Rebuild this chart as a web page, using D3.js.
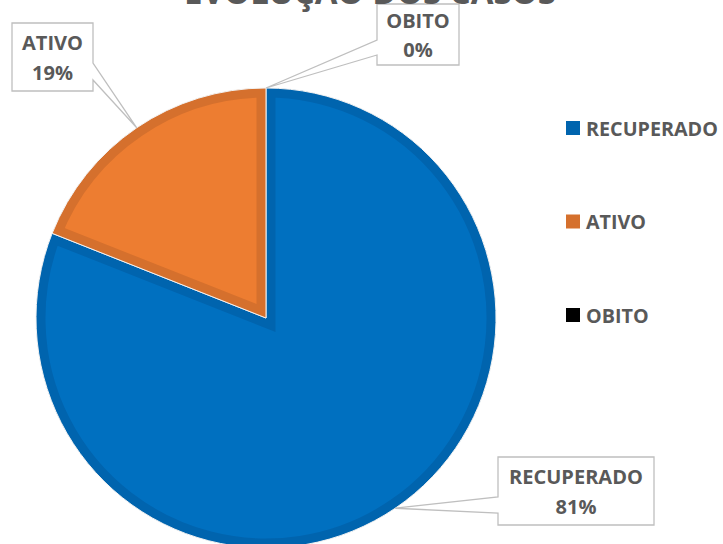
<!DOCTYPE html>
<html>
<head>
<meta charset="utf-8">
<script src="https://cdn.jsdelivr.net/npm/d3@7"></script>
<style>
  html, body { margin: 0; padding: 0; background: #fff; }
  svg { display: block; }
  text { font-family: "Open Sans", "Liberation Sans", sans-serif; font-weight: 700; }
</style>
</head>
<body>
<svg id="chart" width="723" height="544"></svg>
<script>
const title = "EVOLUÇÃO DOS CASOS";
const categories = ["RECUPERADO", "ATIVO", "OBITO"];
const values = [81, 19, 0];
const percentLabels = ["81%", "19%", "0%"];
const fillColors = ["#0070C0", "#ED7D31", "#000000"];
const bandColors = ["#0064AE", "#D5702D", "#000000"];

const W = 723, H = 544;
const svg = d3.select("#chart");
const cx = 266, cy = 318, R = 230;
const textColor = "#595959";

function fitSize(str, targetWidth, base) {
  const t = svg.append("text").attr("font-size", base).text(str);
  const w = t.node().getComputedTextLength();
  t.remove();
  return base * targetWidth / w;
}
const labelSize = fitSize("RECUPERADO", 134, 20);
const legendSize = fitSize("RECUPERADO", 132, 20);
const titleSize = fitSize(title, 372, 30);

const pie = d3.pie().sort(null).value(d => d.v);
const data = categories.map((c, i) => ({ c, v: values[i], i }));
const arcs = pie(data);
const arc = d3.arc().innerRadius(0).outerRadius(R);

const g = svg.append("g").attr("transform", `translate(${cx},${cy})`);
const defs = svg.append("defs");

arcs.forEach((a, k) => {
  if (a.endAngle - a.startAngle <= 0) return;
  const id = "clip" + k;
  defs.append("clipPath").attr("id", id)
    .append("path").attr("d", arc(a));
  g.append("path")
    .attr("d", arc(a))
    .attr("clip-path", `url(#${id})`)
    .attr("fill", fillColors[a.data.i])
    .attr("stroke", bandColors[a.data.i])
    .attr("stroke-width", 19)
    .attr("stroke-linejoin", "miter");
  g.append("path")
    .attr("d", arc(a))
    .attr("fill", "none")
    .attr("stroke", "#f2f2f2")
    .attr("stroke-width", 1);
});

// data label callouts
const boxes = [
  { x0: 498, y0: 457, x1: 654, y1: 525, side: "left", b1: 497, b2: 513 },
  { x0: 12, y0: 23, x1: 93, y1: 91, side: "right", b1: 63, b2: 80 },
  { x0: 377, y0: 4, x1: 459, y1: 65, side: "left", b1: 40, b2: 55 }
];
arcs.forEach((a) => {
  const b = boxes[a.data.i];
  const mid = (a.startAngle + a.endAngle) / 2;
  const tx = cx + R * Math.sin(mid), ty = cy - R * Math.cos(mid);
  let p;
  if (b.side === "right") {
    p = `M${b.x0},${b.y0}H${b.x1}V${b.b1}L${tx},${ty}L${b.x1},${b.b2}V${b.y1}H${b.x0}Z`;
  } else {
    p = `M${b.x0},${b.y0}H${b.x1}V${b.y1}H${b.x0}V${b.b2}L${tx},${ty}L${b.x0},${b.b1}Z`;
  }
  svg.append("path").attr("d", p)
    .attr("fill", "#fff").attr("stroke", "#BFBFBF").attr("stroke-width", 1.3);
  const mx = (b.x0 + b.x1) / 2, my = (b.y0 + b.y1) / 2;
  svg.append("text").attr("x", mx).attr("y", my - 14.5)
    .attr("text-anchor", "middle").attr("dominant-baseline", "central")
    .attr("font-size", labelSize).attr("fill", textColor)
    .text(a.data.c);
  svg.append("text").attr("x", mx).attr("y", my + 15)
    .attr("text-anchor", "middle").attr("dominant-baseline", "central")
    .attr("font-size", labelSize).attr("fill", textColor)
    .text(percentLabels[a.data.i]);
});

// legend
const legendY = d3.scalePoint().domain(categories).range([128, 315]);
const leg = svg.append("g");
categories.forEach((c, i) => {
  const y = legendY(c);
  leg.append("rect").attr("x", 566).attr("y", y - 7).attr("width", 14).attr("height", 14)
    .attr("fill", bandColors[i]);
  leg.append("text").attr("x", 586).attr("y", y)
    .attr("dominant-baseline", "central")
    .attr("font-size", legendSize).attr("fill", textColor)
    .text(c);
});

// title (clipped at top like the reference), drawn last
svg.append("text")
  .attr("x", 370).attr("y", 4)
  .attr("text-anchor", "middle")
  .attr("font-size", titleSize)
  .attr("fill", textColor)
  .text(title);
</script>
</body>
</html>
